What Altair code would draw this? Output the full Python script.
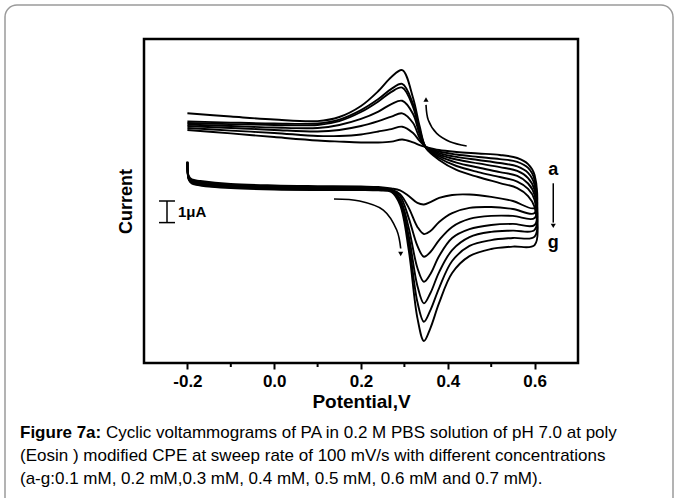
import altair as alt
import pandas as pd

# ---------------- data ----------------
curves = ["a", "b", "c", "d", "e", "f", "g"]

# potential grid (V) of the forward (lower) branch, left to right
lower_v = [-0.2, -0.197, -0.19, -0.17, -0.1, 0.0, 0.1, 0.2, 0.24, 0.27, 0.29,
           0.31, 0.33, 0.345, 0.36, 0.38, 0.41, 0.45, 0.5, 0.55, 0.6]
# current (µA, arbitrary offset) of the lower branch
lower_i = {
    "a": [9.32, 8.66, 8.50, 8.43, 8.29, 8.22, 8.19, 8.17, 8.15, 8.08, 7.99,
          7.73, 7.41, 7.34, 7.45, 7.64, 7.78, 7.80, 7.69, 7.50, 7.18],
    "b": [9.33, 8.61, 8.45, 8.38, 8.24, 8.17, 8.15, 8.13, 8.10, 8.03, 7.82,
          7.18, 6.30, 5.97, 6.11, 6.53, 6.94, 7.18, 7.22, 7.13, 6.94],
    "c": [9.31, 8.59, 8.43, 8.33, 8.19, 8.13, 8.10, 8.10, 8.08, 8.01, 7.73,
          6.71, 5.42, 4.92, 5.14, 5.69, 6.30, 6.67, 6.81, 6.81, 6.71],
    "d": [9.31, 8.57, 8.38, 8.29, 8.17, 8.10, 8.08, 8.08, 8.06, 7.99, 7.59,
          6.25, 4.40, 3.76, 4.12, 4.95, 5.79, 6.20, 6.39, 6.44, 6.39],
    "e": [9.28, 8.54, 8.36, 8.26, 8.15, 8.08, 8.06, 8.06, 8.03, 7.96, 7.50,
          5.88, 3.57, 2.76, 3.24, 4.21, 5.23, 5.83, 6.07, 6.13, 6.16],
    "f": [9.28, 8.52, 8.33, 8.24, 8.13, 8.06, 8.03, 8.03, 8.01, 7.94, 7.41,
          5.56, 2.82, 1.91, 2.45, 3.47, 4.72, 5.42, 5.69, 5.79, 5.85],
    "g": [9.26, 8.50, 8.31, 8.22, 8.10, 8.03, 8.01, 8.01, 7.99, 7.92, 7.32,
          5.23, 2.08, 1.02, 1.62, 2.78, 4.17, 4.95, 5.28, 5.39, 5.46],
}

# potential grid (V) of the reverse (upper) branch, left to right
upper_v = [-0.2, -0.1, 0.0, 0.1, 0.15, 0.2, 0.24, 0.27, 0.295, 0.32, 0.335,
           0.35, 0.38, 0.42, 0.47, 0.52, 0.56, 0.585, 0.6]
upper_i = {
    "a": [10.79, 10.63, 10.46, 10.30, 10.25, 10.21, 10.21, 10.25, 10.35, 10.21,
          10.09, 10.00, 9.86, 9.77, 9.70, 9.63, 9.49, 9.21, 8.70],
    "b": [10.88, 10.76, 10.65, 10.51, 10.51, 10.58, 10.72, 10.83, 10.94, 10.65,
          10.28, 10.00, 9.79, 9.65, 9.54, 9.44, 9.31, 9.03, 8.47],
    "c": [10.97, 10.88, 10.79, 10.72, 10.79, 10.97, 11.20, 11.41, 11.56, 11.11,
          10.42, 10.00, 9.72, 9.54, 9.40, 9.26, 9.10, 8.80, 8.24],
    "d": [11.04, 10.97, 10.90, 10.88, 11.02, 11.30, 11.64, 11.99, 12.14, 11.53,
          10.60, 9.98, 9.65, 9.42, 9.24, 9.07, 8.89, 8.56, 8.01],
    "e": [11.11, 11.06, 11.02, 11.02, 11.20, 11.62, 12.11, 12.55, 12.75, 11.85,
          10.74, 9.95, 9.58, 9.28, 9.05, 8.84, 8.66, 8.31, 7.78],
    "f": [11.18, 11.13, 11.09, 11.09, 11.27, 11.71, 12.22, 12.69, 12.92, 11.99,
          10.83, 9.95, 9.49, 9.12, 8.84, 8.61, 8.40, 8.06, 7.55],
    "g": [11.56, 11.41, 11.27, 11.20, 11.39, 11.90, 12.59, 13.24, 13.56, 12.27,
          10.97, 9.95, 9.40, 8.94, 8.61, 8.33, 8.10, 7.73, 7.22],
}

# annotation arrows (V, µA)
arrow_up_v = [0.4435, 0.405, 0.3744, 0.355, 0.3498]
arrow_up_i = [10.05, 10.245, 10.63, 11.25, 11.95]
arrow_dn_v = [0.1378, 0.1968, 0.2514, 0.2823, 0.2915]
arrow_dn_i = [7.593, 7.50, 7.083, 6.157, 5.30]

x_ticks = [-0.2, 0.0, 0.2, 0.4, 0.6]
x_minor = [-0.1, 0.1, 0.3, 0.5]

caption_bold = "Figure 7a:"
caption_lines = [
    "Cyclic voltammograms of PA in 0.2 M PBS solution of pH 7.0 at poly",
    "(Eosin ) modified CPE at sweep rate of 100 mV/s with different concentrations",
    "(a-g:0.1 mM, 0.2 mM,0.3 mM, 0.4 mM, 0.5 mM, 0.6 mM and 0.7 mM).",
]

FONT = "Liberation Sans"

# ---------------- tables ----------------
rows = []
for c in curves:
    k = 0
    for v, i in zip(lower_v, lower_i[c]):
        rows.append({"curve": c, "k": k, "V": v, "I": i}); k += 1
    for v, i in zip(reversed(upper_v), reversed(upper_i[c])):
        rows.append({"curve": c, "k": k, "V": v, "I": i}); k += 1
df = pd.DataFrame(rows)

arr_rows = []
for j, (v, i) in enumerate(zip(arrow_up_v, arrow_up_i)):
    arr_rows.append({"arrow": "up", "k": j, "V": v, "I": i})
for j, (v, i) in enumerate(zip(arrow_dn_v, arrow_dn_i)):
    arr_rows.append({"arrow": "dn", "k": j, "V": v, "I": i})
arr_df = pd.DataFrame(arr_rows)

xs = alt.Scale(domain=[-0.3, 0.7], nice=False, zero=False)
ys = alt.Scale(domain=[0, 15], nice=False, zero=False)

base = alt.Chart(df)

lines = base.mark_line(color="black", strokeWidth=1.9, interpolate="catmull-rom").encode(
    x=alt.X("V:Q", scale=xs, axis=alt.Axis(
        values=x_ticks, title="Potential,V",
        labelExpr="replace(format(datum.value, '.1f'), '\u2212', '-')",
        labelFont=FONT, labelFontSize=17, labelFontWeight="bold", labelColor="black",
        labelPadding=4, tickSize=6, tickWidth=2, tickColor="black",
        domain=False, grid=False,
        titleFont=FONT, titleFontSize=19, titleFontWeight="bold", titleColor="black",
        titlePadding=3)),
    y=alt.Y("I:Q", scale=ys, axis=alt.Axis(
        title="Current", ticks=False, labels=False, domain=False, grid=False,
        titleFont=FONT, titleFontSize=18, titleFontWeight="bold", titleColor="black",
        titlePadding=9)),
    detail="curve:N",
    order=alt.Order("k:Q"),
)

arrows = alt.Chart(arr_df).mark_line(color="black", strokeWidth=1.6, interpolate="catmull-rom").encode(
    x=alt.X("V:Q", scale=xs), y=alt.Y("I:Q", scale=ys),
    detail="arrow:N", order=alt.Order("k:Q"))

heads = pd.DataFrame({
    "V": [arrow_up_v[-1], arrow_dn_v[-1], 0.643],
    "I": [12.2, 5.05, 6.35],
    "shape": ["triangle-up", "triangle-down", "triangle-down"],
})
head_marks = alt.Chart(heads).mark_point(filled=True, color="black", size=26, opacity=1).encode(
    x=alt.X("V:Q", scale=xs), y=alt.Y("I:Q", scale=ys),
    shape=alt.Shape("shape:N", scale=None))

# a -> g indicator
ag_line = alt.Chart(pd.DataFrame({"V": [0.643], "I": [8.32], "I2": [6.5]})).mark_rule(
    color="black", strokeWidth=1.5).encode(
    x=alt.X("V:Q", scale=xs), y=alt.Y("I:Q", scale=ys), y2="I2:Q")
ag_text = alt.Chart(pd.DataFrame({"V": [0.643, 0.643], "I": [8.95, 5.55], "t": ["a", "g"]})).mark_text(
    font=FONT, fontSize=18, fontWeight="bold", color="black", baseline="middle").encode(
    x=alt.X("V:Q", scale=xs), y=alt.Y("I:Q", scale=ys), text="t:N")

# scale bar (1 µA)
bar_v = alt.Chart(pd.DataFrame({"V": [-0.247], "I": [6.5], "I2": [7.5]})).mark_rule(
    color="black", strokeWidth=1.5).encode(
    x=alt.X("V:Q", scale=xs), y=alt.Y("I:Q", scale=ys), y2="I2:Q")
bar_h = alt.Chart(pd.DataFrame({"V": [-0.2654, -0.2654], "V2": [-0.2286, -0.2286], "I": [6.5, 7.5]})).mark_rule(
    color="black", strokeWidth=1.5).encode(
    x=alt.X("V:Q", scale=xs), x2="V2:Q", y=alt.Y("I:Q", scale=ys))
bar_t = alt.Chart(pd.DataFrame({"V": [-0.2217], "I": [7.0], "t": ["1\u03bcA"]})).mark_text(
    font=FONT, fontSize=15, fontWeight="bold", color="black", align="left", baseline="middle").encode(
    x=alt.X("V:Q", scale=xs), y=alt.Y("I:Q", scale=ys), text="t:N")

# minor ticks
minor = alt.Chart(pd.DataFrame({"V": x_minor})).mark_rule(color="black", strokeWidth=2).encode(
    x=alt.X("V:Q", scale=xs), y=alt.value(324), y2=alt.value(328))

# caption and figure border
one = pd.DataFrame({"z": [0]})
border = alt.Chart(one).mark_rect(
    fill="white", fillOpacity=0, stroke="#9a9a9a", strokeWidth=1.5, cornerRadius=12).encode(
    x=alt.value(-139), x2=alt.value(529), y=alt.value(-34), y2=alt.value(480))
cap_b = alt.Chart(pd.DataFrame({"t": [caption_bold]})).mark_text(
    font=FONT, fontSize=17, fontWeight="bold", color="black", align="left", baseline="alphabetic").encode(
    x=alt.value(-124), y=alt.value(399), text="t:N")
cap_1 = alt.Chart(pd.DataFrame({"t": [caption_lines[0]]})).mark_text(
    font=FONT, fontSize=17, color="black", align="left", baseline="alphabetic").encode(
    x=alt.value(-38), y=alt.value(399), text="t:N")
cap_2 = alt.Chart(pd.DataFrame({"t": [caption_lines[1]]})).mark_text(
    font=FONT, fontSize=17, color="black", align="left", baseline="alphabetic").encode(
    x=alt.value(-124), y=alt.value(422), text="t:N")
cap_3 = alt.Chart(pd.DataFrame({"t": [caption_lines[2]]})).mark_text(
    font=FONT, fontSize=17, color="black", align="left", baseline="alphabetic").encode(
    x=alt.value(-124), y=alt.value(445), text="t:N")

chart = alt.layer(
    border, lines, arrows, head_marks, ag_line, ag_text, bar_v, bar_h, bar_t, minor,
    cap_b, cap_1, cap_2, cap_3,
).properties(
    width=434, height=324,
    autosize=alt.AutoSizeParams(type="none"),
    padding={"left": 144, "top": 39, "right": 100, "bottom": 135},
    background="white",
).configure_view(stroke="black", strokeWidth=2.5)

chart.save("out.html", embed_options={"renderer": "svg", "actions": False})
